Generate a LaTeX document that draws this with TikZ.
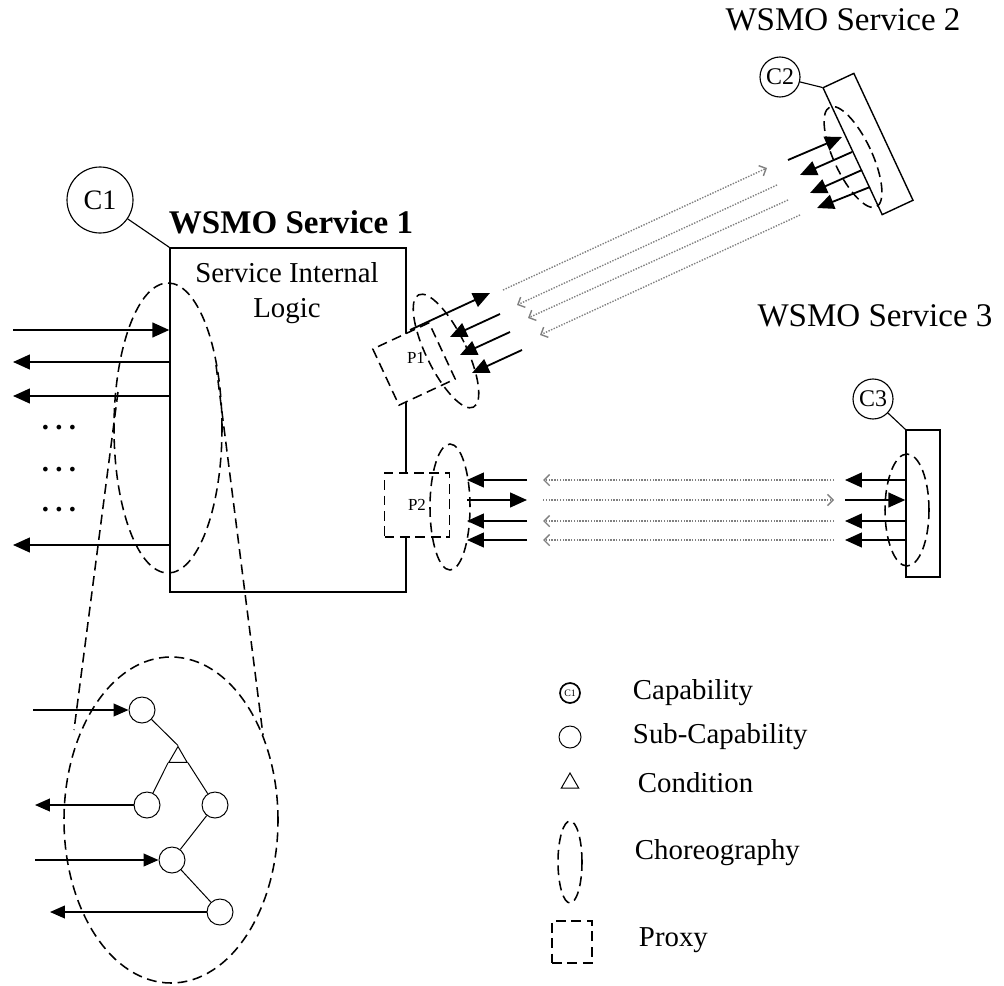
\documentclass[tikz,border=0pt]{standalone}
\usepackage{fontspec}
\setmainfont{Liberation Serif}
\usetikzlibrary{arrows.meta,positioning,shapes.geometric}
\newcommand\pxu{0.025cm}
\tikzset{
  sig/.style     = {-{Triangle[length=12pt,width=10.5pt]}, line width=1.3pt},
  sigthin/.style = {-{Triangle[length=10.5pt,width=9pt]}, line width=1pt},
  msg/.style     = {-{Straight Barb[length=4pt,width=8pt]}, densely dotted, line width=1pt, gray},
  chor/.style    = {draw, ellipse, dash pattern=on 7pt off 4pt, line width=1.1pt, inner sep=0pt},
  cone/.style    = {dash pattern=on 7pt off 4pt, line width=1.1pt},
  proxy/.style   = {draw, rectangle, dash pattern=on 7pt off 4pt, line width=1.1pt, fill=white, inner sep=0pt},
  capab/.style   = {draw, circle, line width=0.8pt, inner sep=0pt},
  subcap/.style  = {draw, circle, line width=0.7pt, minimum size=26*\pxu, inner sep=0pt},
  cond/.style    = {draw, regular polygon, regular polygon sides=3, line width=0.7pt, minimum size=21*\pxu, inner sep=0pt},
  service/.style = {draw, rectangle, line width=1pt, inner sep=0pt},
  title/.style   = {font=\fontsize{23.5}{28}\selectfont},
  txt/.style     = {font=\fontsize{20.5}{24.6}\selectfont, align=center},
}
\begin{document}
\begin{tikzpicture}[x=\pxu,y=-\pxu]
\useasboundingbox (0,0) rectangle (1004,985);

% service 1
\node[service, minimum width=236*\pxu, minimum height=344*\pxu] (svc1) at (288,420) {};
\node[title] (ttl1) at (291,222) {\textbf{WSMO Service 1}};
\node[txt] (logic) at (287,293) {Service Internal\\Logic};
\node[capab, minimum size=66*\pxu, font=\fontsize{20}{24}\selectfont] (c1) at (100,200) {C1};
\draw[line width=0.8pt] (c1) -- (svc1.north west);

% left interface
\foreach \y/\k in {330/1,362/2,396/3,545/4} \coordinate (lf\k) at (13,\y);
\draw[sig] (lf1) -- (lf1 -| svc1.west);
\foreach \k in {2,3,4} \draw[sig] (lf\k -| svc1.west) -- (lf\k);
\foreach \y/\k in {428/1,470/2,510/3} \node[txt] (dots\k) at (59,\y) {\textbf{.\kern4.5pt.\kern4.5pt.}};

% choreography of service 1, zoomed
\node[chor, minimum width=108*\pxu, minimum height=290*\pxu] (ch1) at (168,428) {};
\node[chor, minimum width=214*\pxu, minimum height=326*\pxu] (zoom) at (171,820) {};
\coordinate (zl1) at (118,392); \coordinate (zl2) at (74,730);
\coordinate (zr1) at (216,365); \coordinate (zr2) at (263,735);
\draw[cone] (zl1) -- (zl2);
\draw[cone] (zr1) -- (zr2);

% sub-capabilities
\node[subcap] (s1) at (142,710) {};
\node[cond] (cnd) at (178,757) {};
\node[subcap] (s2) at (147,805) {};
\node[subcap] (s3) at (215,805) {};
\node[subcap] (s4) at (172,860) {};
\node[subcap] (s5) at (220,912) {};
\draw[line width=0.7pt] (s1) -- (cnd.corner 1);
\draw[line width=0.7pt] (cnd.corner 2) -- (s2);
\draw[line width=0.7pt] (cnd.corner 3) -- (s3);
\draw[line width=0.7pt] (s3) -- (s4) -- (s5);
\coordinate (e1) at (33,710); \coordinate (e2) at (35,805);
\coordinate (e4) at (35,860); \coordinate (e5) at (50,912);
\draw[sigthin] (e1) -- (s1);
\draw[sigthin] (s2) -- (e2);
\draw[sigthin] (e4) -- (s4);
\draw[sigthin] (s5) -- (e5);

% proxy 1
\node[proxy, minimum size=62*\pxu, rotate=25] (p1) at (414,364) {};
\node[font=\fontsize{12}{14}\selectfont] (p1txt) at (416,358) {P1};
\node[chor, minimum width=40*\pxu, minimum height=125*\pxu, rotate=26] (ch2) at (446,351) {};
\coordinate (pa1) at (410,330); \coordinate (pb1) at (490,293);
\coordinate (pa2) at (450,337); \coordinate (pb2) at (500,314);
\coordinate (pa3) at (460,355); \coordinate (pb3) at (510,332);
\coordinate (pa4) at (472,373); \coordinate (pb4) at (522,350);
\draw[sig] (pa1) -- (pb1);
\foreach \k in {2,3,4} \draw[sig] (pb\k) -- (pa\k);

% service 2
\node[title] (ttl2) at (843,20) {WSMO Service 2};
\node[service, minimum width=34*\pxu, minimum height=140*\pxu, rotate=25] (svc2) at (868,144) {};
\node[chor, minimum width=38*\pxu, minimum height=110*\pxu, rotate=25] (ch3) at (853,157) {};
\node[capab, minimum size=40*\pxu, font=\fontsize{17}{20}\selectfont] (c2) at (780,77) {C2};
\draw[line width=0.8pt] (c2) -- (svc2.north west);
\coordinate (qa1) at (788,160); \coordinate (qb1) at (842,137);
\coordinate (qa2) at (800,175); \coordinate (qb2) at (852,152);
\coordinate (qa3) at (810,193); \coordinate (qb3) at (862,170);
\coordinate (qa4) at (817,208); \coordinate (qb4) at (870,187);
\draw[sig] (qa1) -- (qb1);
\foreach \k in {2,3,4} \draw[sig] (qb\k) -- (qa\k);

% messages P1 <-> service 2
\coordinate (m1a) at (503,290); \coordinate (m1b) at (767,168);
\coordinate (m2a) at (517,305); \coordinate (m2b) at (777,185);
\coordinate (m3a) at (528,318); \coordinate (m3b) at (788,200);
\coordinate (m4a) at (540,335); \coordinate (m4b) at (800,215);
\draw[msg] (m1a) -- (m1b);
\foreach \k in {2,3,4} \draw[msg] (m\k b) -- (m\k a);

% service 3
\node[title] (ttl3) at (875,316) {WSMO Service 3};
\node[service, minimum width=34*\pxu, minimum height=147*\pxu] (svc3) at (923,503.5) {};
\node[chor, minimum width=44*\pxu, minimum height=112*\pxu] (ch5) at (907,510) {};
\node[capab, minimum size=40*\pxu, font=\fontsize{17}{20}\selectfont] (c3) at (873,399) {C3};
\draw[line width=0.8pt] (c3) -- (svc3.north west);

% proxy 2
\node[proxy, minimum width=65*\pxu, minimum height=64*\pxu, font=\fontsize{12}{14}\selectfont] (p2) at (417,505) {P2};
\node[chor, minimum width=40*\pxu, minimum height=126*\pxu] (ch4) at (450,507) {};
\foreach \y/\k in {480/1,500/2,521/3,540/4} {
  \coordinate (ua\k) at (467,\y); \coordinate (ub\k) at (527,\y);
  \coordinate (va\k) at (543,\y); \coordinate (vb\k) at (834,\y);
  \coordinate (wa\k) at (845,\y);
}
\draw[sig] (ua2) -- (ub2);
\foreach \k in {1,3,4} \draw[sig] (ub\k) -- (ua\k);
\draw[msg] (va2) -- (vb2);
\foreach \k in {1,3,4} \draw[msg] (vb\k) -- (va\k);
\draw[sig] (wa2) -- (wa2 -| svc3.west);
\foreach \k in {1,3,4} \draw[sig] (wa\k -| svc3.west) -- (wa\k);

% legend
\node[capab, minimum size=20*\pxu, line width=1.2pt, font=\fontsize{7}{8}\selectfont] (lg1) at (570,693) {C1};
\node[subcap, minimum size=22*\pxu] (lg2) at (570,737) {};
\node[cond, minimum size=20*\pxu] (lg3) at (570,783) {};
\node[chor, minimum width=24*\pxu, minimum height=82*\pxu] (lg4) at (570,862) {};
\node[proxy, minimum width=40*\pxu, minimum height=42*\pxu] (lg5) at (572,942) {};
\node[txt, anchor=west] (lgt1) at (628,693) {Capability};
\node[txt, anchor=west] (lgt2) at (628,737) {Sub-Capability};
\node[txt, anchor=west] (lgt3) at (633,783) {Condition};
\node[txt, anchor=west] (lgt4) at (630,853) {Choreography};
\node[txt, anchor=west] (lgt5) at (634,940) {Proxy};
\end{tikzpicture}
\end{document}
